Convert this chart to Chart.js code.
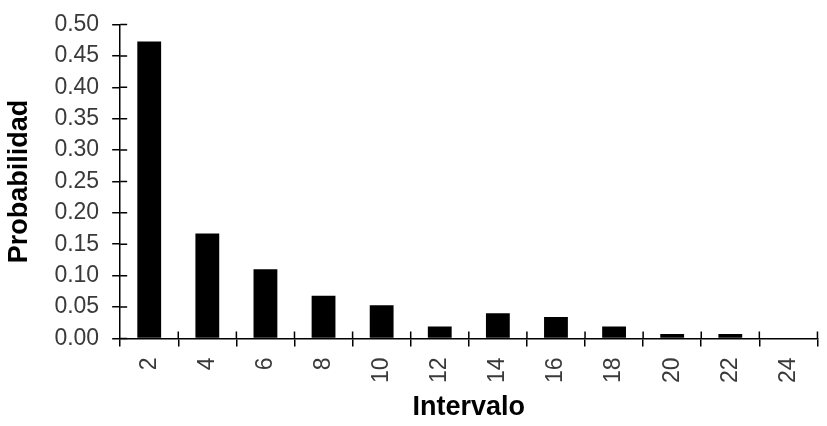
<!DOCTYPE html>
<html>
<head>
<meta charset="utf-8">
<script src="https://cdn.jsdelivr.net/npm/chart.js@4"></script>
<style>
html,body{margin:0;padding:0;background:#fff;}
#wrap{width:827px;height:426px;}
</style>
</head>
<body>
<div id="wrap"><canvas id="c" width="827" height="426"></canvas></div>
<script>
const categories = ['2','4','6','8','10','12','14','16','18','20','22','24'];
const probabilities = [0.473, 0.167, 0.110, 0.068, 0.053, 0.019, 0.040, 0.034, 0.019, 0.007, 0.007, 0];
const xTitle = 'Intervalo';
const yTitle = 'Probabilidad';

const innerTicks = {
  id: 'innerTicks',
  afterDraw(chart) {
    const ctx = chart.ctx;
    const x = chart.scales.x, y = chart.scales.y;
    ctx.save();
    ctx.strokeStyle = '#000';
    ctx.lineWidth = 1.5;
    ctx.beginPath();
    for (let i = 0; i < y.ticks.length; i++) {
      const py = y.getPixelForTick(i);
      ctx.moveTo(y.right, py);
      ctx.lineTo(y.right + 7, py);
    }
    const n = categories.length;
    const step = x.getPixelForValue(1) - x.getPixelForValue(0);
    for (let i = 1; i <= n; i++) {
      const px = x.getPixelForValue(i - 1) + step / 2;
      ctx.moveTo(px, x.top);
      ctx.lineTo(px, x.top - 7);
    }
    ctx.stroke();
    ctx.restore();
  }
};

new Chart(document.getElementById('c'), {
  type: 'bar',
  data: {
    labels: categories,
    datasets: [{
      data: probabilities,
      backgroundColor: '#000',
      borderWidth: 0,
      categoryPercentage: 1.0,
      barPercentage: 0.41
    }]
  },
  options: {
    responsive: false,
    animation: false,
    events: [],
    layout: { padding: { left: 3, right: -7, top: 0, bottom: 5 } },
    plugins: { legend: { display: false }, tooltip: { enabled: false } },
    scales: {
      x: {
        offset: true,
        grid: { display: true, drawOnChartArea: false, offset: true, tickLength: 8, color: '#000', lineWidth: 1.5 },
        border: { display: true, color: '#000', width: 1.5 },
        ticks: {
          minRotation: 90, maxRotation: 90, padding: 11, autoSkip: false,
          color: '#3a3a3a',
          font: { family: 'Liberation Sans', size: 23 }
        },
        title: {
          display: true, text: xTitle, color: '#000',
          font: { family: 'Liberation Sans', size: 27, weight: 'bold', lineHeight: 1.0 },
          padding: { top: 0, bottom: 0 }
        }
      },
      y: {
        min: 0, max: 0.5,
        grid: { display: true, drawOnChartArea: false, tickLength: 8, color: '#000', lineWidth: 1.5 },
        border: { display: true, color: '#000', width: 1.5 },
        ticks: {
          stepSize: 0.05, padding: 13, autoSkip: false,
          color: '#3a3a3a',
          font: { family: 'Liberation Sans', size: 23, lineHeight: 1.0 },
          callback: (v) => Number(v).toFixed(2)
        },
        title: {
          display: true, text: yTitle, color: '#000',
          font: { family: 'Liberation Sans', size: 27, weight: 'bold' },
          padding: { top: 0, bottom: 6 }
        }
      }
    }
  },
  plugins: [innerTicks]
});
</script>
</body>
</html>
